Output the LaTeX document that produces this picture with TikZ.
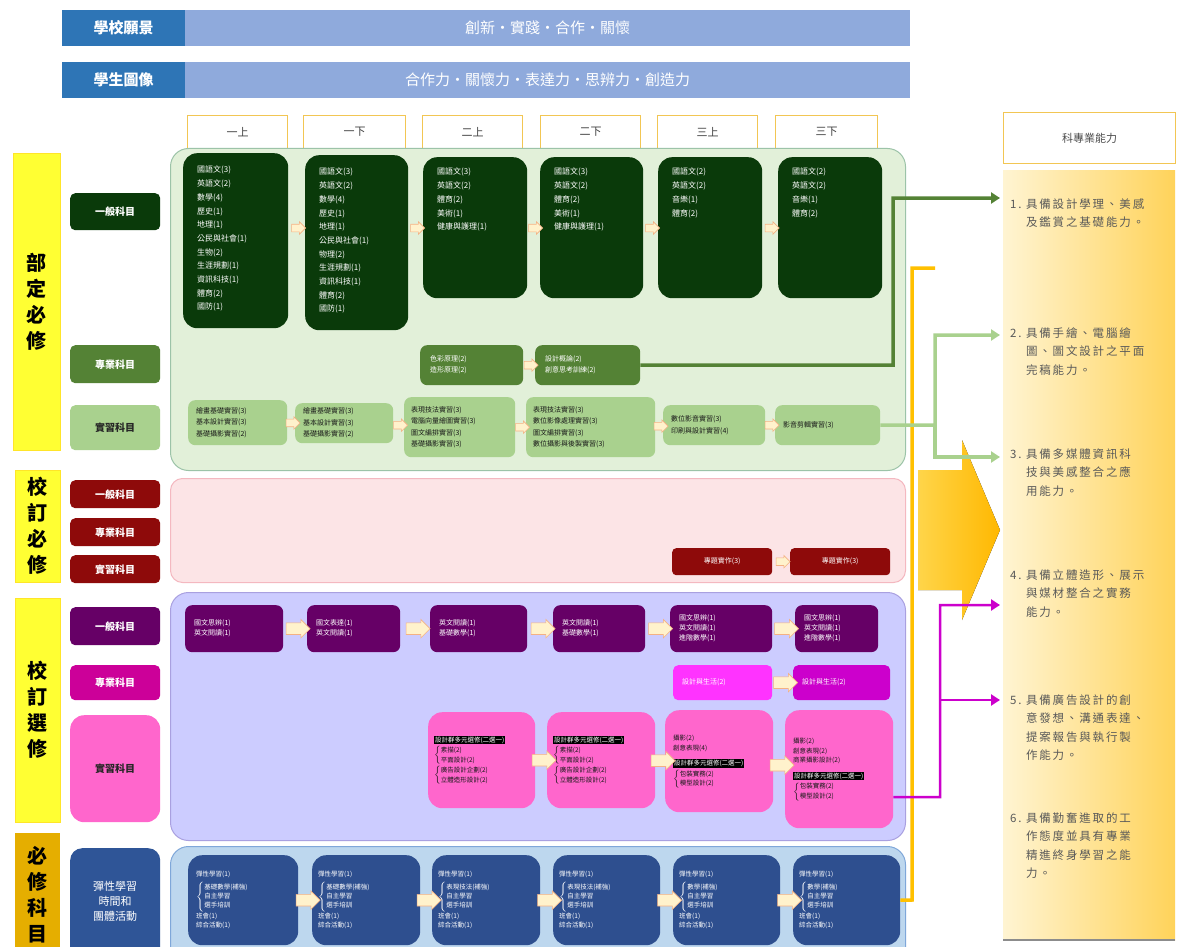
\documentclass[tikz,border=0pt]{standalone}
\usepackage{fontspec}
\setmainfont{Noto Sans CJK TC}
\newfontfamily\itemfont[LetterSpace=16]{Noto Sans CJK TC}
\usetikzlibrary{shapes.arrows,calc,arrows.meta}
\setlength{\fboxsep}{0.8pt}
\definecolor{hdark}{HTML}{2E75B6}
\definecolor{hbar}{HTML}{8FAADC}
\definecolor{dkgreen}{HTML}{0A3A0A}
\definecolor{midgreen}{HTML}{548235}
\definecolor{ltgreen}{HTML}{A9D18E}
\definecolor{gcont}{HTML}{E2F0D9}
\definecolor{gcontb}{HTML}{9CC3A8}
\definecolor{dred}{HTML}{8E0A0A}
\definecolor{pcont}{HTML}{FCE4E6}
\definecolor{pcontb}{HTML}{F4B8C0}
\definecolor{purp}{HTML}{660066}
\definecolor{mag}{HTML}{CC0099}
\definecolor{magA}{HTML}{FF33FF}
\definecolor{magB}{HTML}{CC00CC}
\definecolor{pink}{HTML}{FF66CC}
\definecolor{lcont}{HTML}{CCCCFF}
\definecolor{lcontb}{HTML}{A9A0E0}
\definecolor{bbox}{HTML}{2E4F8F}
\definecolor{blab}{HTML}{2F5597}
\definecolor{bcont}{HTML}{BDD7EE}
\definecolor{bcontb}{HTML}{7FA7D9}
\definecolor{ylab}{HTML}{FFFF33}
\definecolor{gold}{HTML}{E5AE00}
\definecolor{colb}{HTML}{F2C653}
\definecolor{arrfill}{HTML}{FFF2CC}
\definecolor{arrdraw}{HTML}{F4B183}
\definecolor{orline}{HTML}{FFC000}
\definecolor{itemgray}{HTML}{595959}
\definecolor{panL}{HTML}{FFF4D2}
\definecolor{panR}{HTML}{FFD35A}
\definecolor{bigL}{HTML}{FFD54A}
\definecolor{bigR}{HTML}{FFB800}
\newcommand{\rb}[6]{\node[#2, minimum width={#5-#3}, minimum height={#6-#4}, anchor=north west, inner sep=0] (#1) at (#3,#4) {};}
\newcommand{\ar}[3]{\path let \p1=(#1.east), \p2=(#2.west) in node[#3] at ({(\x1+\x2)/2},{(\y1+\y2)/2}) {};}
\newcommand{\ary}[4]{\path let \p1=(#1.east), \p2=(#2.west) in node[#4] at ({(\x1+\x2)/2},{-#3pt}) {};}
\newcommand{\brc}[1]{$\left\{\begin{tabular}{@{}l@{}}#1\end{tabular}\right.$}
\newcommand{\hl}[1]{\colorbox{black}{\textcolor{white}{#1}}}
\begin{document}
\begin{tikzpicture}[x=1pt,y=-1pt,
  cont/.style={rounded corners=18, line width=1},
  lab/.style={rounded corners=5, text=white},
  labt/.style={text=white, font=\fontsize{10}{13}\selectfont\bfseries, align=center, inner sep=0},
  ylabel/.style={fill=ylab, draw=ylab!80!orange},
  ylabt/.style={font=\fontsize{20}{26}\selectfont\bfseries, align=center, inner sep=0},
  bx/.style={rounded corners=14},
  sbx/.style={rounded corners=7},
  t/.style={inner sep=0, align=left, anchor=north west},
  tw/.style={inner sep=0, align=left, anchor=west},
  sarr/.style={single arrow, single arrow head extend=2.5, minimum height=14, inner xsep=0, inner ysep=3.5, fill=arrfill, draw=arrdraw, line width=0.6},
  barr/.style={single arrow, single arrow head extend=3.5, minimum height=24, inner xsep=0, inner ysep=5.5, fill=arrfill, draw=arrdraw, line width=0.6},
  colh/.style={draw=colb, line width=1.2, fill=white},
  item/.style={inner sep=0, anchor=north west, text=itemgray, font=\itemfont\fontsize{11.5}{18.5}\selectfont},
  tip/.style={-{Triangle[length=9,width=11]}}
]
\useasboundingbox (0,0) rectangle (1181,947);
\clip (0,0) rectangle (1181,947);
\fill[white] (0,0) rectangle (1181,947);

% header
\rb{visbar}{fill=hbar}{185}{10}{910}{46}
\rb{vis}{fill=hdark}{62}{10}{185}{46}
\node[text=white, font=\fontsize{15}{18}\selectfont\bfseries] at (vis.center) {學校願景};
\node[text=white, font=\fontsize{15}{18}\selectfont] at (visbar.center) {創新・實踐・合作・關懷};
\rb{stubar}{fill=hbar}{185}{62}{910}{98}
\rb{stu}{fill=hdark}{62}{62}{185}{98}
\node[text=white, font=\fontsize{15}{18}\selectfont\bfseries] at (stu.center) {學生圖像};
\node[text=white, font=\fontsize{15}{18}\selectfont] at (stubar.center) {合作力・關懷力・表達力・思辨力・創造力};

% column headers
\foreach \n/\a/\b/\s in {c1/187/287/一上, c2/303/405/一下, c3/422/522/二上, c4/540/640/二下, c5/657/757/三上, c6/775/877/三下}{
  \rb{\n}{colh}{\a}{115}{\b}{148}
  \node[text=black!75, font=\fontsize{11}{13}\selectfont] at (\n.center) {\s};
}
\rb{skill}{colh}{1003}{112}{1175}{163}
\node[text=black!70, font=\fontsize{11}{13}\selectfont] at (skill.center) {科專業能力};

% right panel
\rb{panel}{left color=panL, right color=panR}{1003}{170}{1175}{940}
\draw[black!45, line width=2] (panel.south west) -- (panel.south east);

% containers
\rb{gc}{cont, fill=gcont, draw=gcontb}{170}{148}{905}{470}
\rb{pc}{cont, rounded corners=12, fill=pcont, draw=pcontb}{170}{478}{905}{582}
\rb{lc}{cont, fill=lcont, draw=lcontb}{170}{592}{905}{840}
\rb{bc}{cont, fill=bcont, draw=bcontb}{170}{846}{905}{975}

% left big labels
\rb{Y1}{ylabel}{13}{153}{60}{450}
\node[ylabt] at (Y1.center) {部\\定\\必\\修};
\rb{Y2}{ylabel}{15}{470}{60}{582}
\node[ylabt] at (Y2.center) {校\\訂\\必\\修};
\rb{Y3}{ylabel}{15}{598}{60}{822}
\node[ylabt] at (Y3.center) {校\\訂\\選\\修};
\rb{Y4}{fill=gold}{15}{833}{60}{965}
\node[ylabt] at ([yshift=4]Y4.center) {必\\修\\科\\目};

% row labels
\rb{Lg1}{lab, fill=dkgreen}{70}{193}{160}{230}
\node[labt] at (Lg1.center) {一般科目};
\rb{Lg2}{lab, fill=midgreen}{70}{345}{160}{383}
\node[labt] at (Lg2.center) {專業科目};
\rb{Lg3}{lab, fill=ltgreen}{70}{405}{160}{450}
\node[labt, text=black!85] at (Lg3.center) {實習科目};
\rb{Lr1}{lab, fill=dred}{70}{480}{160}{508}
\node[labt] at (Lr1.center) {一般科目};
\rb{Lr2}{lab, fill=dred}{70}{518}{160}{546}
\node[labt] at (Lr2.center) {專業科目};
\rb{Lr3}{lab, fill=dred}{70}{555}{160}{583}
\node[labt] at (Lr3.center) {實習科目};
\rb{Lp1}{lab, fill=purp}{70}{607}{160}{645}
\node[labt] at (Lp1.center) {一般科目};
\rb{Lp2}{lab, fill=mag}{70}{665}{160}{700}
\node[labt] at (Lp2.center) {專業科目};
\rb{Lp3}{lab, rounded corners=14, fill=pink}{70}{715}{160}{822}
\node[labt, text=black!85] at (Lp3.center) {實習科目};
\rb{Lb1}{lab, rounded corners=12, fill=blab}{70}{848}{160}{960}
\node[labt, font=\fontsize{11}{15}\selectfont] at ([yshift=3]Lb1.center) {彈性學習\\時間和\\團體活動};

% general (dark green)
\rb{G1}{bx, fill=dkgreen}{183}{153}{288}{328}
\rb{G2}{bx, fill=dkgreen}{305}{155}{408}{330}
\rb{G3}{bx, fill=dkgreen}{423}{157}{527}{298}
\rb{G4}{bx, fill=dkgreen}{540}{157}{643}{298}
\rb{G5}{bx, fill=dkgreen}{658}{157}{762}{298}
\rb{G6}{bx, fill=dkgreen}{778}{157}{882}{298}
\begin{scope}[every node/.append style={text=white, font=\fontsize{8}{13.7}\selectfont}]
\node[t] at ([xshift=14,yshift=-13]G1.north west) {國語文(3)\\英語文(2)\\數學(4)\\歷史(1)\\地理(1)\\公民與社會(1)\\生物(2)\\生涯規劃(1)\\資訊科技(1)\\體育(2)\\國防(1)};
\node[t] at ([xshift=14,yshift=-13]G2.north west) {國語文(3)\\英語文(2)\\數學(4)\\歷史(1)\\地理(1)\\公民與社會(1)\\物理(2)\\生涯規劃(1)\\資訊科技(1)\\體育(2)\\國防(1)};
\node[t] at ([xshift=14,yshift=-11]G3.north west) {國語文(3)\\英語文(2)\\體育(2)\\美術(1)\\健康與護理(1)};
\node[t] at ([xshift=14,yshift=-11]G4.north west) {國語文(3)\\英語文(2)\\體育(2)\\美術(1)\\健康與護理(1)};
\node[t] at ([xshift=14,yshift=-11]G5.north west) {國語文(2)\\英語文(2)\\音樂(1)\\體育(2)};
\node[t] at ([xshift=14,yshift=-11]G6.north west) {國語文(2)\\英語文(2)\\音樂(1)\\體育(2)};
\end{scope}
\ary{G1}{G2}{228}{sarr}
\ary{G2}{G3}{228}{sarr}
\ary{G3}{G4}{228}{sarr}
\ary{G4}{G5}{228}{sarr}
\ary{G5}{G6}{228}{sarr}

% professional (mid green)
\rb{S1}{sbx, fill=midgreen}{420}{345}{523}{385}
\rb{S2}{sbx, fill=midgreen}{535}{345}{640}{385}
\begin{scope}[every node/.append style={text=white, font=\fontsize{7}{11}\selectfont}]
\node[tw] at ([xshift=10]S1.west) {色彩原理(2)\\造形原理(2)};
\node[tw] at ([xshift=10]S2.west) {設計概論(2)\\創意思考訓練(2)};
\end{scope}
\ar{S1}{S2}{sarr}

% practice (light green)
\rb{P1}{sbx, fill=ltgreen}{188}{400}{287}{445}
\rb{P2}{sbx, fill=ltgreen}{295}{403}{393}{443}
\rb{P3}{sbx, fill=ltgreen}{404}{397}{515}{457}
\rb{P4}{sbx, fill=ltgreen}{526}{397}{655}{457}
\rb{P5}{sbx, fill=ltgreen}{663}{405}{765}{445}
\rb{P6}{sbx, fill=ltgreen}{775}{405}{880}{445}
\begin{scope}[every node/.append style={text=black!90, font=\fontsize{7}{11.5}\selectfont}]
\node[tw] at ([xshift=8]P1.west) {繪畫基礎實習(3)\\基本設計實習(3)\\基礎攝影實習(2)};
\node[tw] at ([xshift=8]P2.west) {繪畫基礎實習(3)\\基本設計實習(3)\\基礎攝影實習(2)};
\node[tw] at ([xshift=7]P3.west) {表現技法實習(3)\\電腦向量繪圖實習(3)\\圖文編排實習(3)\\基礎攝影實習(3)};
\node[tw] at ([xshift=7]P4.west) {表現技法實習(3)\\數位影像處理實習(3)\\圖文編排實習(3)\\數位攝影與後製實習(3)};
\node[tw] at ([xshift=8]P5.west) {數位影音實習(3)\\印刷與設計實習(4)};
\node[tw] at ([xshift=8]P6.west) {影音剪輯實習(3)};
\end{scope}
\ar{P1}{P2}{sarr}
\ar{P2}{P3}{sarr}
\ar{P3}{P4}{sarr}
\ar{P4}{P5}{sarr}
\ar{P5}{P6}{sarr}

% school required (red)
\rb{R1}{rounded corners=4, fill=dred}{672}{548}{772}{575}
\rb{R2}{rounded corners=4, fill=dred}{790}{548}{890}{575}
\node[text=white, font=\fontsize{7}{9}\selectfont] at (R1.center) {專題實作(3)};
\node[text=white, font=\fontsize{7}{9}\selectfont] at (R2.center) {專題實作(3)};
\ar{R1}{R2}{sarr}

% elective general (purple)
\rb{Q1}{sbx, fill=purp}{185}{605}{283}{652}
\rb{Q2}{sbx, fill=purp}{307}{605}{400}{652}
\rb{Q3}{sbx, fill=purp}{430}{605}{527}{652}
\rb{Q4}{sbx, fill=purp}{553}{605}{645}{652}
\rb{Q5}{sbx, fill=purp}{670}{605}{772}{652}
\rb{Q6}{sbx, fill=purp}{795}{605}{878}{652}
\begin{scope}[every node/.append style={text=white, font=\fontsize{7}{10}\selectfont}]
\node[tw] at ([xshift=9]Q1.west) {國文思辨(1)\\英文閱讀(1)};
\node[tw] at ([xshift=9]Q2.west) {國文表達(1)\\英文閱讀(1)};
\node[tw] at ([xshift=9]Q3.west) {英文閱讀(1)\\基礎數學(1)};
\node[tw] at ([xshift=9]Q4.west) {英文閱讀(1)\\基礎數學(1)};
\node[tw] at ([xshift=9]Q5.west) {國文思辨(1)\\英文閱讀(1)\\進階數學(1)};
\node[tw] at ([xshift=9]Q6.west) {國文思辨(1)\\英文閱讀(1)\\進階數學(1)};
\end{scope}
\ar{Q1}{Q2}{barr}
\ar{Q2}{Q3}{barr}
\ar{Q3}{Q4}{barr}
\ar{Q4}{Q5}{barr}
\ar{Q5}{Q6}{barr}

% elective professional (magenta)
\rb{M1}{rounded corners=5, fill=magA}{673}{665}{772}{700}
\rb{M2}{rounded corners=5, fill=magB}{793}{665}{890}{700}
\node[tw, text=white, font=\fontsize{7}{9}\selectfont] at ([xshift=9]M1.west) {設計與生活(2)};
\node[tw, text=white, font=\fontsize{7}{9}\selectfont] at ([xshift=9]M2.west) {設計與生活(2)};
\ar{M1}{M2}{barr}

% elective practice (pink)
\rb{K1}{bx, fill=pink}{428}{712}{535}{808}
\rb{K2}{bx, fill=pink}{547}{712}{655}{808}
\rb{K3}{bx, fill=pink}{665}{710}{773}{812}
\rb{K4}{bx, fill=pink}{785}{710}{893}{828}
\begin{scope}[every node/.append style={text=black!90, font=\fontsize{6.5}{9.5}\selectfont}]
\node[tw] at ([xshift=6]K1.west) {\begin{tabular}{@{}l@{}}\hl{設計群多元選修(二選一)}\\[1pt]\brc{素描(2)\\平面設計(2)}\\[6pt]\brc{廣告設計企劃(2)\\立體造形設計(2)}\end{tabular}};
\node[tw] at ([xshift=6]K2.west) {\begin{tabular}{@{}l@{}}\hl{設計群多元選修(二選一)}\\[1pt]\brc{素描(2)\\平面設計(2)}\\[6pt]\brc{廣告設計企劃(2)\\立體造形設計(2)}\end{tabular}};
\node[tw] at ([xshift=8]K3.west) {\begin{tabular}{@{}l@{}}攝影(2)\\創意表現(4)\\[6pt]\hl{設計群多元選修(二選一)}\\[1pt]\brc{包裝實務(2)\\模型設計(2)}\end{tabular}};
\node[tw] at ([xshift=8]K4.west) {\begin{tabular}{@{}l@{}}攝影(2)\\創意表現(2)\\商業攝影設計(2)\\[6pt]\hl{設計群多元選修(二選一)}\\[1pt]\brc{包裝實務(2)\\模型設計(2)}\end{tabular}};
\end{scope}
\ar{K1}{K2}{barr}
\ar{K2}{K3}{barr}
\ar{K3}{K4}{barr}

% flexible learning (blue)
\rb{B1}{bx, fill=bbox}{188}{855}{298}{945}
\rb{B2}{bx, fill=bbox}{312}{855}{420}{945}
\rb{B3}{bx, fill=bbox}{432}{855}{540}{945}
\rb{B4}{bx, fill=bbox}{553}{855}{660}{945}
\rb{B5}{bx, fill=bbox}{673}{855}{780}{945}
\rb{B6}{bx, fill=bbox}{793}{855}{900}{945}
\begin{scope}[every node/.append style={text=white, font=\fontsize{6.5}{9.2}\selectfont}]
\node[tw] at ([xshift=8]B1.west) {\begin{tabular}{@{}l@{}}彈性學習(1)\\[2pt]\brc{基礎數學(補強)\\自主學習\\選手培訓}\\[2pt]班會(1)\\綜合活動(1)\end{tabular}};
\node[tw] at ([xshift=6]B2.west) {\begin{tabular}{@{}l@{}}彈性學習(1)\\[2pt]\brc{基礎數學(補強)\\自主學習\\選手培訓}\\[2pt]班會(1)\\綜合活動(1)\end{tabular}};
\node[tw] at ([xshift=6]B3.west) {\begin{tabular}{@{}l@{}}彈性學習(1)\\[2pt]\brc{表現技法(補強)\\自主學習\\選手培訓}\\[2pt]班會(1)\\綜合活動(1)\end{tabular}};
\node[tw] at ([xshift=6]B4.west) {\begin{tabular}{@{}l@{}}彈性學習(1)\\[2pt]\brc{表現技法(補強)\\自主學習\\選手培訓}\\[2pt]班會(1)\\綜合活動(1)\end{tabular}};
\node[tw] at ([xshift=6]B5.west) {\begin{tabular}{@{}l@{}}彈性學習(1)\\[2pt]\brc{數學(補強)\\自主學習\\選手培訓}\\[2pt]班會(1)\\綜合活動(1)\end{tabular}};
\node[tw] at ([xshift=6]B6.west) {\begin{tabular}{@{}l@{}}彈性學習(1)\\[2pt]\brc{數學(補強)\\自主學習\\選手培訓}\\[2pt]班會(1)\\綜合活動(1)\end{tabular}};
\end{scope}
\ar{B1}{B2}{barr}
\ar{B2}{B3}{barr}
\ar{B3}{B4}{barr}
\ar{B4}{B5}{barr}
\ar{B5}{B6}{barr}

% big orange arrow
\fill[left color=bigL, right color=bigR] (918,470) -- (962,470) -- (962,440) -- (1000,530) -- (962,620) -- (962,590) -- (918,590) -- cycle;

% ability items
\node[item] (I1) at (1010,195) {\begin{tabular}{@{}l@{\ }l@{}}1. & 具備設計學理、美感\\ & 及鑑賞之基礎能力。\end{tabular}};
\node[item] (I2) at (1010,324) {\begin{tabular}{@{}l@{\ }l@{}}2. & 具備手繪、電腦繪\\ & 圖、圖文設計之平面\\ & 完稿能力。\end{tabular}};
\node[item] (I3) at (1010,445) {\begin{tabular}{@{}l@{\ }l@{}}3. & 具備多媒體資訊科\\ & 技與美感整合之應\\ & 用能力。\end{tabular}};
\node[item] (I4) at (1010,566) {\begin{tabular}{@{}l@{\ }l@{}}4. & 具備立體造形、展示\\ & 與媒材整合之實務\\ & 能力。\end{tabular}};
\node[item] (I5) at (1010,691) {\begin{tabular}{@{}l@{\ }l@{}}5. & 具備廣告設計的創\\ & 意發想、溝通表達、\\ & 提案報告與執行製\\ & 作能力。\end{tabular}};
\node[item] (I6) at (1010,809) {\begin{tabular}{@{}l@{\ }l@{}}6. & 具備勤奮進取的工\\ & 作態度並具有專業\\ & 精進終身學習之能\\ & 力。\end{tabular}};

% connectors
\coordinate (e1) at (1000,198);
\coordinate (e2) at (1000,335);
\coordinate (e3) at (1000,457);
\coordinate (e4) at (1000,605);
\coordinate (e5) at (1000,700);
\coordinate (oe) at (935,268);
\draw[orline, line width=3.5] (B6.east) -- (912,900) -- (912,268) -- (oe);
\draw[midgreen, line width=3.5, tip] (S2.east) -- (893,365) -- (893,198) -- (e1);
\draw[ltgreen, line width=3.5, tip] (P6.east) -- (935,425) |- (e2);
\draw[ltgreen, line width=3.5, tip] (935,425) |- (e3);
\draw[magB, line width=2.5, tip] ([yshift=-28]K4.east) -- (940,797) |- (e4);
\draw[magB, line width=2.5, tip] (940,700) -- (e5);
\end{tikzpicture}
\end{document}
